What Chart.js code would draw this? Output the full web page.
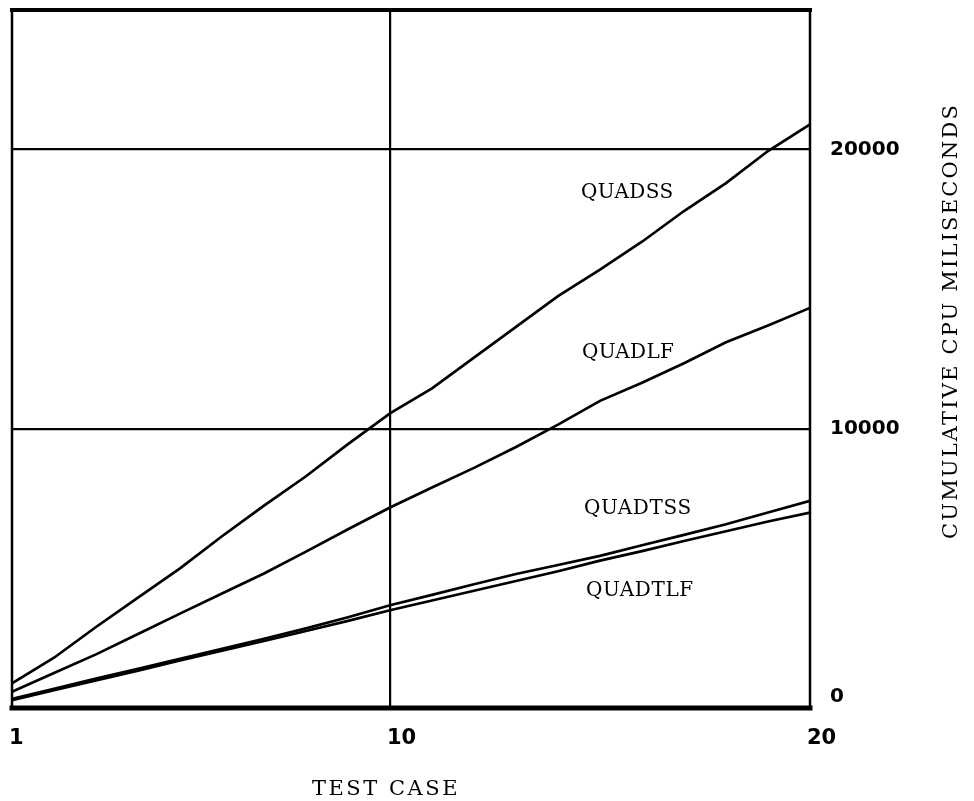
<!DOCTYPE html>
<html>
<head>
<meta charset="utf-8">
<script src="https://cdn.jsdelivr.net/npm/chart.js@4/dist/chart.umd.min.js"></script>
<style>
  html, body { margin: 0; padding: 0; background: #fff; }
  #wrap { width: 974px; height: 801px; position: relative; }
</style>
</head>
<body>
<div id="wrap"><canvas id="c" width="974" height="801"></canvas></div>
<script>
// ---- data ----
const testCases = [1,2,3,4,5,6,7,8,9,10,11,12,13,14,15,16,17,18,19,20];
const quadss  = [880, 1800, 2900, 3950, 5000, 6150, 7250, 8300, 9450, 10550, 11450, 12550, 13650, 14750, 15700, 16700, 17800, 18800, 19950, 20900];
const quadlf  = [580, 1250, 1920, 2650, 3380, 4100, 4820, 5600, 6400, 7180, 7900, 8600, 9350, 10150, 11000, 11650, 12350, 13100, 13700, 14330];
const quadtss = [330, 690, 1050, 1400, 1760, 2120, 2480, 2850, 3250, 3680, 4050, 4430, 4800, 5120, 5450, 5830, 6200, 6580, 7000, 7420];
const quadtlf = [280, 640, 990, 1340, 1700, 2050, 2400, 2760, 3120, 3500, 3850, 4200, 4550, 4900, 5280, 5620, 5980, 6330, 6680, 7000];
const seriesNames = ['QUADSS', 'QUADLF', 'QUADTSS', 'QUADTLF'];
const xTicks = [1, 10, 20];
const yTicks = [0, 10000, 20000];
const xGridAt = [10];
const yGridAt = [10000, 20000];
// label anchor positions (data coordinates)
const labelX = [15.65, 15.67, 15.9, 15.95];
const labelY = [18460, 12710, 7140, 4210];
const xTitle = 'TEST CASE';
const yTitle = 'CUMULATIVE CPU MILISECONDS';

const toPts = arr => arr.map((v, i) => ({x: testCases[i], y: v}));
const mk = (name, arr) => ({
  label: name, data: toPts(arr), borderColor: '#000', backgroundColor: '#000',
  borderWidth: 2.7, pointRadius: 0, tension: 0, fill: false
});

const serifFont = '"DejaVu Serif", serif';

function fitText(ctx, text, target) {
  ctx.letterSpacing = '0px';
  const w = ctx.measureText(text).width;
  const sp = (target - w) / text.length;
  ctx.letterSpacing = sp.toFixed(2) + 'px';
}
function noPad(s) { s.paddingTop = 0; s.paddingBottom = 0; s.paddingLeft = 0; s.paddingRight = 0; }

const decor = {
  id: 'decor',
  beforeDatasetsDraw(chart) {
    const {ctx, chartArea: a} = chart;
    ctx.save();
    ctx.strokeStyle = '#000';
    ctx.lineCap = 'square';
    ctx.lineWidth = 2.5;
    ctx.beginPath(); ctx.moveTo(a.left, a.top); ctx.lineTo(a.left, a.bottom); ctx.stroke();
    ctx.beginPath(); ctx.moveTo(a.right, a.top); ctx.lineTo(a.right, a.bottom); ctx.stroke();
    ctx.lineWidth = 4;
    ctx.beginPath(); ctx.moveTo(a.left, a.top); ctx.lineTo(a.right, a.top); ctx.stroke();
    ctx.lineWidth = 5;
    ctx.beginPath(); ctx.moveTo(a.left, a.bottom); ctx.lineTo(a.right, a.bottom); ctx.stroke();
    ctx.restore();
  },
  afterDatasetsDraw(chart) {
    const {ctx, chartArea: a} = chart;
    const xs = chart.scales.x, ys = chart.scales.y;
    ctx.save();
    ctx.fillStyle = '#000';
    ctx.textAlign = 'center';
    ctx.textBaseline = 'middle';
    ctx.font = '20px ' + serifFont;
    seriesNames.forEach((n, i) => {
      fitText(ctx, n, n.length * 15.4);
      ctx.fillText(n, xs.getPixelForValue(labelX[i]), ys.getPixelForValue(labelY[i]));
    });
    // axis titles
    ctx.font = '21px ' + serifFont;
    fitText(ctx, xTitle, 148);
    ctx.fillText(xTitle, xs.getPixelForValue(10) - 4, a.bottom + 82);
    ctx.translate(a.right + 142, (a.top + a.bottom) / 2 - 38);
    ctx.rotate(-Math.PI / 2);
    fitText(ctx, yTitle, 436);
    ctx.fillText(yTitle, 0, 0);
    ctx.restore();
  }
};

new Chart(document.getElementById('c'), {
  type: 'line',
  data: { datasets: [mk('QUADSS', quadss), mk('QUADLF', quadlf), mk('QUADTSS', quadtss), mk('QUADTLF', quadtlf)] },
  options: {
    responsive: false,
    animation: false,
    devicePixelRatio: 1,
    layout: { padding: { left: 12, top: 10, right: 0, bottom: 0 } },
    plugins: { legend: { display: false }, tooltip: { enabled: false }, title: { display: false } },
    scales: {
      x: {
        type: 'linear', position: 'bottom', min: 1, max: 20,
        afterBuildTicks: s => { s.ticks = xTicks.map(v => ({value: v})); },
        afterFit: s => { s.height = 93; noPad(s); },
        border: { display: false },
        grid: {
          drawTicks: false,
          color: c => xGridAt.includes(c.tick && c.tick.value) ? '#000' : 'rgba(0,0,0,0)',
          lineWidth: 2.2
        },
        ticks: {
          color: '#000', padding: 18, align: 'start', labelOffset: -3,
          font: { family: '"DejaVu Sans"', weight: 'bold', size: 21 },
          callback: v => String(v)
        }
      },
      y: {
        type: 'linear', position: 'right', min: 0, max: 25000,
        afterBuildTicks: s => { s.ticks = yTicks.map(v => ({value: v})); },
        afterFit: s => { s.width = 164; noPad(s); },
        border: { display: false },
        grid: {
          drawTicks: false,
          color: c => yGridAt.includes(c.tick && c.tick.value) ? '#000' : 'rgba(0,0,0,0)',
          lineWidth: 2.2
        },
        ticks: {
          color: '#000', padding: 20,
          font: { family: '"DejaVu Sans"', weight: 'bold', size: 20, lineHeight: 1.1 },
          callback: v => v === 0 ? ['0', ''] : String(v)
        }
      }
    }
  },
  plugins: [decor]
});
</script>
</body>
</html>
